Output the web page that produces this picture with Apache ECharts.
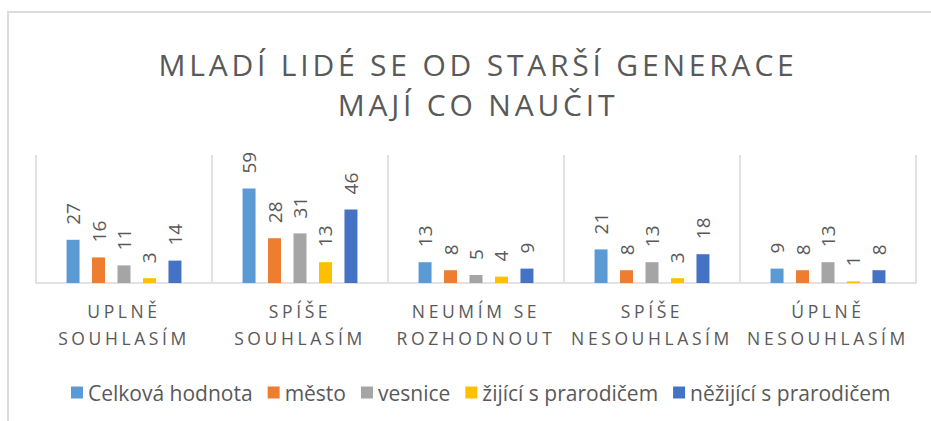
<!DOCTYPE html>
<html>
<head>
<meta charset="utf-8">
<script src="https://cdn.jsdelivr.net/npm/echarts@6/dist/echarts.min.js"></script>
<style>
  html, body { margin: 0; padding: 0; background: #fff; }
  .wrap { position: relative; width: 931px; height: 421px; overflow: hidden; }
  .frame { position: absolute; left: 7px; top: 11px; width: 940px; height: 430px; border: 2px solid #dcdcdc; box-sizing: border-box; }
  #chart { position: absolute; left: 0; top: 0; width: 931px; height: 421px; }
</style>
</head>
<body>
<div class="wrap">
  <div class="frame"></div>
  <div id="chart"></div>
</div>
<script>
const titleLines = ['MLADÍ LIDÉ SE OD STARŠÍ GENERACE', 'MAJÍ CO NAUČIT']
const categories = ['UPLNĚ\nSOUHLASÍM', 'SPÍŠE\nSOUHLASÍM', 'NEUMÍM SE\nROZHODNOUT', 'SPÍŠE\nNESOUHLASÍM', 'ÚPLNĚ\nNESOUHLASÍM']
const seriesNames = ['Celková hodnota', 'město', 'vesnice', 'žijící s prarodičem', 'něžijící s prarodičem']
const celkova = [27, 59, 13, 21, 9]
const mesto = [16, 28, 8, 8, 8]
const vesnice = [11, 31, 5, 13, 13]
const zijici = [3, 13, 4, 3, 1]
const nezijici = [14, 46, 9, 18, 8]
const colors = ['#5b9bd5', '#ed7d31', '#a5a5a5', '#ffc000', '#4472c4']

const font = '"Open Sans", "Noto Sans", sans-serif'
const textColor = '#595959'

const chart = echarts.init(document.getElementById('chart'), null, { renderer: 'svg' })

const values = [celkova, mesto, vesnice, zijici, nezijici]
const series = seriesNames.map((name, i) => ({
  name: name,
  type: 'bar',
  data: values[i],
  barWidth: 13,
  barGap: '96%',
  itemStyle: { color: colors[i] },
  label: {
    show: true,
    position: 'top',
    rotate: 90,
    align: 'left',
    verticalAlign: 'middle',
    distance: 15,
    color: textColor,
    fontFamily: font,
    fontSize: 19,
  },
}))

chart.setOption({
  animation: false,
  color: colors,
  title: {
    text: titleLines.join('\n'),
    left: 478,
    textAlign: 'center',
    top: 44,
    padding: 0,
    textStyle: {
      color: textColor,
      fontFamily: font,
      fontSize: 30,
      fontWeight: 'normal',
      lineHeight: 40,
    },
  },
  legend: {
    data: seriesNames,
    left: 66,
    top: 377,
    itemWidth: 12,
    itemHeight: 12,
    itemGap: 15,
    icon: 'rect',
    textStyle: { color: textColor, fontFamily: font, fontSize: 21 },
  },
  grid: { left: 36, right: 15, top: 155, bottom: 138 },
  xAxis: {
    type: 'category',
    data: categories,
    axisLine: { lineStyle: { color: '#d9d9d9', width: 1.5 } },
    axisTick: { show: false },
    splitLine: { show: true, interval: 0, lineStyle: { color: '#d9d9d9', width: 1.5 } },
    axisLabel: {
      interval: 0,
      margin: 14,
      color: textColor,
      fontFamily: font,
      fontSize: 17.5,
      lineHeight: 27,
    },
  },
  yAxis: {
    type: 'value',
    min: 0,
    max: 80,
    show: false,
    splitLine: { show: false },
  },
  series: series,
})

// letter spacing like the original chart style (title and category labels)
const spacing = {}
titleLines.forEach((t) => { spacing[t] = '3.8px' })
categories.forEach((c) => c.split('\n').forEach((l) => { spacing[l] = '3.6px' }))
function applySpacing() {
  document.querySelectorAll('#chart text').forEach((el) => {
    const s = spacing[el.textContent.trim()]
    if (s) el.setAttribute('letter-spacing', s)
  })
}
chart.on('finished', applySpacing)
applySpacing()
</script>
</body>
</html>
